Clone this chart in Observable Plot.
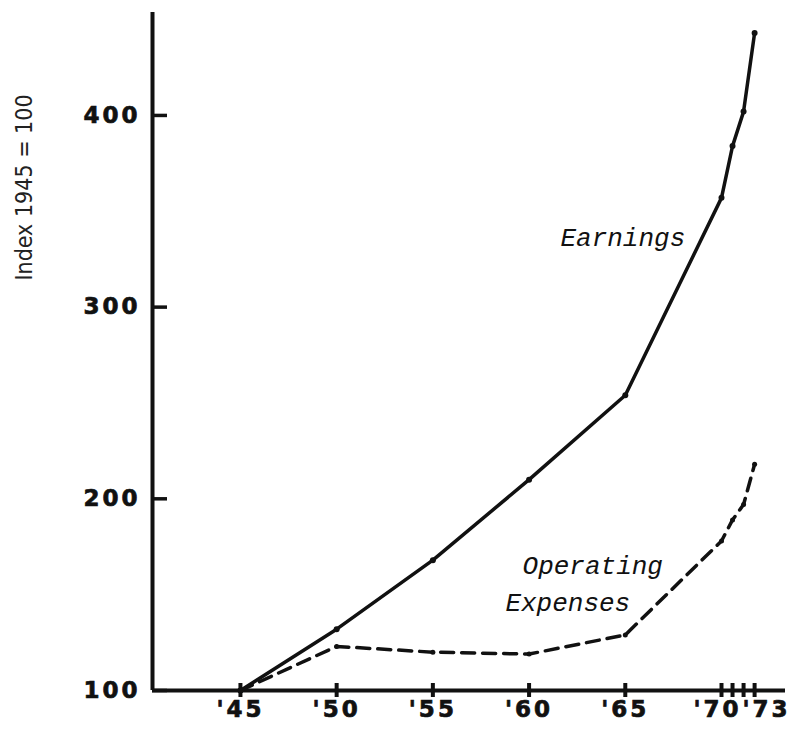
<!DOCTYPE html>
<html><head><meta charset="utf-8">
<script src="https://cdn.jsdelivr.net/npm/d3@7"></script>
<script src="https://cdn.jsdelivr.net/npm/@observablehq/plot@0.6"></script>
<style>
body{margin:0;background:#fff}
g[aria-label="y-axis tick label"] text, g[aria-label="x-axis tick label"] text {letter-spacing: 3px; stroke: #111; stroke-width: 0.7px;}
</style>
</head><body><div id="chart"></div>
<script>
const years = [1945, 1950, 1955, 1960, 1965, 1970, 1971, 1972, 1973];
const earnings = [100, 132, 168, 210, 254, 357, 384, 402, 443];
const expenses = [100, 123, 120, 119, 129, 178, 189, 197, 218];
const yTicks = [100, 200, 300, 400];
const xTicks = [1945, 1950, 1955, 1960, 1965, 1970, 1971, 1972, 1973];
const xTickLabels = ["'45", "'50", "'55", "'60", "'65"];
const endTicks = [1970, 1973];
const endTickLabels = ["'70", "'73"];
const xDomain = [1940.43, 1970, 1975.8];
const yDomain = [100, 453.7];
const annotations = [
  {text: "Earnings", year: 1961.63, value: 336.3},
  {text: "Operating", year: 1959.66, value: 165.2},
  {text: "Expenses", year: 1958.77, value: 145.9}
];

const earnRows = years.map((y, i) => ({year: y, value: earnings[i]}));
const expRows = years.map((y, i) => ({year: y, value: expenses[i]}));
const labelOf = new Map(xTickLabels.map((l, i) => [xTicks[i], l]));

const ink = "#111";
const tickFont = {fontSize: 23, fontWeight: "bold", fontFamily: "DejaVu Sans"};

const chart = Plot.plot({
  width: 791,
  height: 731,
  marginLeft: 152,
  marginRight: 6,
  marginTop: 12,
  marginBottom: 41,
  style: {background: "#fff", color: ink},
  x: {type: "linear", domain: xDomain, range: [152, 721, 785]},
  y: {domain: yDomain},
  marks: [
    Plot.ruleX([xDomain[0]], {stroke: ink, strokeWidth: 4}),
    Plot.ruleY([yDomain[0]], {stroke: ink, strokeWidth: 4}),
    Plot.axisY({ticks: yTicks, tickSize: -15, tickPadding: 27, strokeWidth: 3.5, label: null, ...tickFont, tickFormat: d => String(d)}),
    Plot.axisX({ticks: xTicks, tickSize: 14, dy: -7, tickPadding: 3, strokeWidth: 4, label: null, ...tickFont, tickFormat: d => labelOf.get(d) ?? ""}),
    Plot.axisX({ticks: [endTicks[0]], tickSize: 0, dy: 7, dx: -4, tickPadding: 3, label: null, ...tickFont, tickFormat: () => endTickLabels[0]}),
    Plot.axisX({ticks: [endTicks[1]], tickSize: 0, dy: 7, dx: 12, tickPadding: 3, label: null, ...tickFont, tickFormat: () => endTickLabels[1]}),
    Plot.line(earnRows, {x: "year", y: "value", stroke: ink, strokeWidth: 3.5}),
    Plot.dot(earnRows, {x: "year", y: "value", r: 3, fill: ink}),
    Plot.line(expRows, {x: "year", y: "value", stroke: ink, strokeWidth: 3.5, strokeDasharray: "13,8"}),
    Plot.dot(expRows, {x: "year", y: "value", r: 2.5, fill: ink}),
    Plot.text(annotations, {x: "year", y: "value", text: "text", textAnchor: "start", fontFamily: "Liberation Mono", fontStyle: "italic", fontSize: 26, fill: ink}),
    Plot.text(["Index 1945 = 100"], {frameAnchor: "top-left", textAnchor: "middle", lineAnchor: "middle", dx: -128, dy: 175, rotate: -90, fontFamily: "'DejaVu Sans Condensed', sans-serif", fontSize: 23, fill: "#222"})
  ]
});
document.getElementById("chart").append(chart);
</script>
</body></html>
